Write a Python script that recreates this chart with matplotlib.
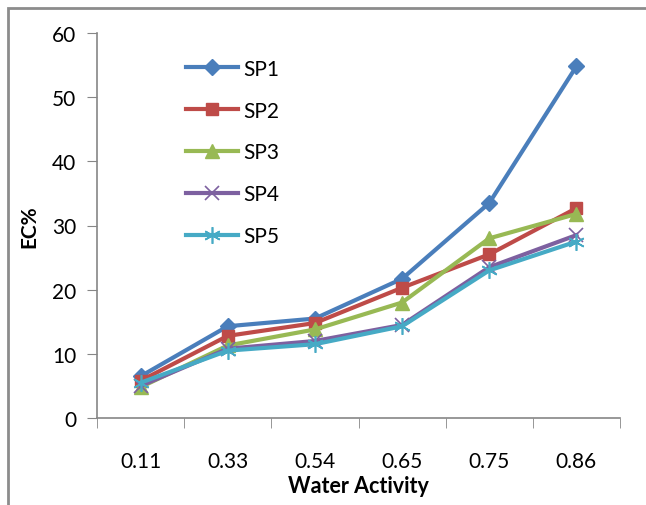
import numpy as np
import matplotlib.pyplot as plt
from matplotlib.patches import Rectangle

categories = ['0.11', '0.33', '0.54', '0.65', '0.75', '0.86']
sp1 = [6.5, 14.3, 15.5, 21.7, 33.5, 54.8]
sp2 = [5.8, 12.8, 14.8, 20.3, 25.5, 32.7]
sp3 = [4.8, 11.3, 13.8, 18.0, 28.0, 31.8]
sp4 = [5.0, 10.8, 12.0, 14.5, 23.5, 28.5]
sp5 = [5.5, 10.5, 11.5, 14.3, 23.0, 27.5]

series = [
    ('SP1', sp1, '#4A7EBB', 'D', 8),
    ('SP2', sp2, '#BE4B48', 's', 9),
    ('SP3', sp3, '#98B954', '^', 10),
    ('SP4', sp4, '#7D60A0', 'x', 10),
    ('SP5', sp5, '#46AAC5', (6, 2, 0), 12),
]

plt.rcParams['font.family'] = ['Lato', 'DejaVu Sans']

fig = plt.figure(figsize=(6.46, 5.06), dpi=100)
ax = fig.add_axes([97 / 646, 1 - 419 / 506, (620 - 97) / 646, (419 - 34) / 506])

# outer chart frame (only left and top visible)
fig.patches.append(Rectangle((8 / 646, -0.5), 3, 1 - 9 / 506 + 0.5,
                             transform=fig.transFigure, fill=False,
                             edgecolor='#8c8c8c', linewidth=2))

x = np.arange(len(categories))
for name, vals, col, mk, ms in series:
    ax.plot(x, vals, color=col, marker=mk, markersize=ms, linewidth=3,
            markeredgewidth=1 if mk not in ('x', (6, 2, 0)) else 1.2,
            markeredgecolor=col, label=name)

ax.set_xlim(-0.5, len(categories) - 0.5)
ax.set_ylim(0, 60)
ax.set_yticks(range(0, 61, 10))
ax.set_xticks(x)
ax.set_xticklabels(categories)
ax.set_xticks(np.arange(-0.5, len(categories), 1), minor=True)
ax.tick_params(axis='x', which='major', length=0, pad=24, labelsize=15)
ax.tick_params(axis='x', which='minor', length=7, color='#868686', direction='out')
ax.tick_params(axis='y', length=7, color='#868686', labelsize=15, pad=8)

for s in ['top', 'right']:
    ax.spines[s].set_visible(False)
for s in ['left', 'bottom']:
    ax.spines[s].set_color('#868686')
    ax.spines[s].set_linewidth(1.2)

ax.set_xlabel('Water Activity', fontsize=15.5, fontweight='bold', labelpad=3)
ax.set_ylabel('EC%', fontsize=15, fontweight='bold', labelpad=9)

ax.legend(loc='upper left', bbox_to_anchor=(0.155, 0.955), frameon=False,
          fontsize=15, handlelength=2.5, handletextpad=0.25, labelspacing=1.05,
          borderaxespad=0)

fig.savefig('out.png', dpi=100)
